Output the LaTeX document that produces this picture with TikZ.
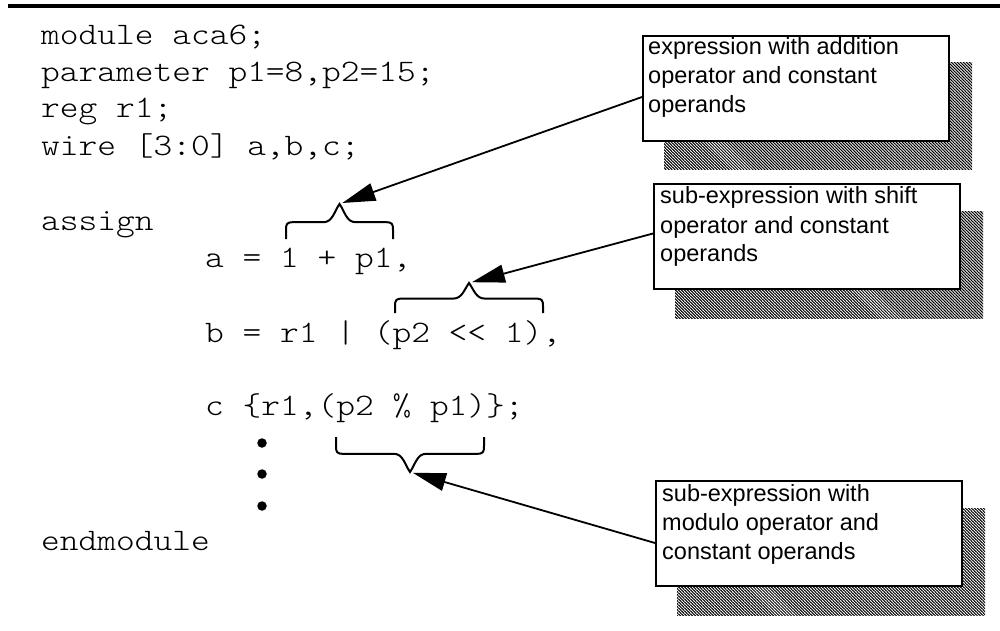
\documentclass[tikz,border=0pt]{standalone}
\usepackage{fontspec}
\setmainfont{Liberation Sans}
\newfontfamily\codefont[Extension=.otf,FakeStretch=1.14]{lmmonolt10-regular}
\usetikzlibrary{arrows.meta,patterns.meta,backgrounds}

% curly brace over (or under) a piece of code; the tip gets a name
% #1 placement of the left end, #2 width, #3 depth, #4 name of the tip
\newcommand{\codebrace}[4]{%
  \begin{scope}[#1]
    \pgfmathsetmacro{\bw}{#2}%
    \pgfmathsetmacro{\bh}{#3}%
    \pgfmathsetmacro{\bm}{#2/2}%
    \pgfmathsetmacro{\bs}{0.48*#3}%
    \draw[bracepen] (0,0) -- (0,{-\bs+8})
      .. controls (0,{-\bs+1}) and (1,{-\bs}) .. (8,{-\bs})
      -- ({\bm-16},{-\bs})
      .. controls ({\bm-7},{-\bs}) and ({\bm-5},{-\bh+7}) .. (\bm,{-\bh})
      .. controls ({\bm+5},{-\bh+7}) and ({\bm+7},{-\bs}) .. ({\bm+16},{-\bs})
      -- ({\bw-8},{-\bs})
      .. controls ({\bw-1},{-\bs}) and (\bw,{-\bs+1}) .. (\bw,{-\bs+8})
      -- (\bw,0);
    \coordinate (#4) at (\bm,{-\bh});
  \end{scope}}

\tikzset{
  codeline/.style={font=\codefont\fontsize{31.3}{37}\selectfont,
    anchor=base west, inner sep=0pt},
  bracepen/.style={line width=2pt, line join=miter},
  notebox/.style={draw, line width=2pt, fill=white, anchor=north west,
    inner sep=0pt, minimum width=306pt, minimum height=105pt},
  notetext/.style={font=\fontsize{23.5}{29}\selectfont, anchor=base west,
    inner sep=0pt},
  hatch/.style={pattern={Lines[angle=-45,distance=2.12pt,line width=1.05pt]}},
  pointer/.style={line width=1.8pt, -{Triangle[length=33pt,width=18pt]},
    shorten >=3pt},
  codedot/.style={circle, fill=black, inner sep=0pt, minimum size=9.5pt},
}

\begin{document}
\begin{tikzpicture}[x=1pt,y=-1pt]
\useasboundingbox (0,0) rectangle (1000,631);

% rule across the top
\draw[line width=3.5pt] (8,6) -- (1000,6);

% the Verilog source
\node[codeline] (l1) at (41,45)  {module aca6;};
\node[codeline] (l2) at (41,82)  {parameter p1=8,p2=15;};
\node[codeline] (l3) at (41,118) {reg r1;};
\node[codeline] (l4) at (41,156) {wire [3:0] a,b,c;};
\node[codeline] (l5) at (41,230) {assign};
\node[codeline] (l6) at (205,267) {a = 1 + p1,};
\node[codeline] (l7) at (205,342) {b = r1 | (p2 << 1),};
\node[codeline] (l8) at (205,415) {c \{r1,(p2 \% p1)\};};
\node[codedot] (d1) at (262,443) {};
\node[codedot] (d2) at (262,474) {};
\node[codedot] (d3) at (262,506) {};
\node[codeline] (l9) at (41,550) {endmodule};

% braces marking the expressions
\codebrace{shift={(286,239)}}{107}{35}{tipA}
\codebrace{shift={(395,313)}}{148}{30}{tipB}
\codebrace{shift={(336,437)},yscale=-1}{148}{35}{tipC}

% annotation boxes
\node[notebox] (boxA) at (642,35)  {};
\node[notebox] (boxB) at (653,183) {};
\node[notebox] (boxC) at (655,480) {};

\node[notetext] (txtA) at ([shift={(6,20)}]boxA.north west)
  {\parbox[t]{300pt}{\raggedright expression with addition\\operator and constant\\operands}};
\node[notetext] (txtB) at ([shift={(7,21)}]boxB.north west)
  {\parbox[t]{300pt}{\raggedright sub-expression with shift\\operator and constant\\operands}};
\node[notetext] (txtC) at ([shift={(7,21)}]boxC.north west)
  {\parbox[t]{300pt}{\raggedright sub-expression with\\modulo operator and\\constant operands}};

% hatched drop shadows
\begin{scope}[on background layer]
  \foreach \b in {boxA,boxB,boxC}
    \fill[hatch] ([shift={(22,28)}]\b.north west) rectangle ([shift={(22,28)}]\b.south east);
\end{scope}

% pointers from the boxes to the braces
\draw[pointer] ([yshift=-8.5pt]boxA.west) -- (tipA);
\draw[pointer] ([yshift=3pt]boxB.west) -- (tipB);
\draw[pointer] ([yshift=-9.5pt]boxC.west) -- (tipC);
\end{tikzpicture}
\end{document}
